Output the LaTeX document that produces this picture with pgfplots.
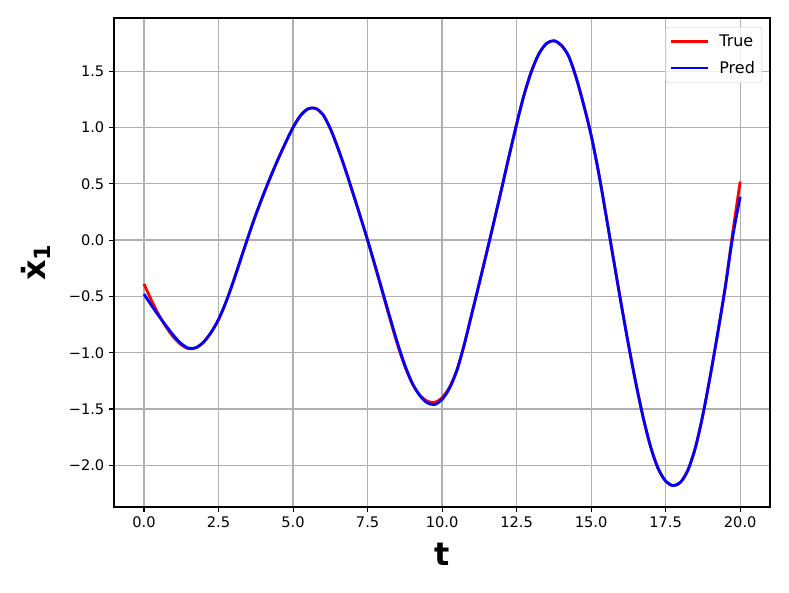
\documentclass[border=0pt]{standalone}
\usepackage{fontspec}
\setmainfont{DejaVu Sans}
\usepackage{pgfplots}
\pgfplotsset{compat=1.18}
\pgfplotstableread{
t y
0.0 -0.48
0.25 -0.58
0.5 -0.675
0.75 -0.765
1.0 -0.85
1.25 -0.92
1.5 -0.96
1.75 -0.955
2.0 -0.905
2.25 -0.82
2.5 -0.705
2.75 -0.55
3.0 -0.365
3.25 -0.165
3.5 0.035
3.75 0.225
4.0 0.40
4.25 0.565
4.5 0.72
4.75 0.865
5.0 1.0
5.25 1.105
5.5 1.165
5.75 1.17
6.0 1.115
6.25 0.99
6.5 0.82
6.75 0.63
7.0 0.425
7.25 0.215
7.5 0.0
7.75 -0.225
8.0 -0.455
8.25 -0.685
8.5 -0.91
8.75 -1.11
9.0 -1.27
9.25 -1.38
9.5 -1.445
9.75 -1.46
10.0 -1.415
10.25 -1.315
10.5 -1.155
10.75 -0.92
11.0 -0.65
11.25 -0.38
11.5 -0.105
11.75 0.175
12.0 0.46
12.25 0.75
12.5 1.03
12.75 1.29
13.0 1.50
13.25 1.655
13.5 1.745
13.75 1.77
14.0 1.73
14.25 1.63
14.5 1.44
14.75 1.20
15.0 0.93
15.25 0.60
15.5 0.22
15.75 -0.17
16.0 -0.555
16.25 -0.925
16.5 -1.27
16.75 -1.58
17.0 -1.84
17.25 -2.03
17.5 -2.14
17.75 -2.18
18.0 -2.15
18.25 -2.04
18.5 -1.84
18.75 -1.55
19.0 -1.20
19.25 -0.82
19.5 -0.42
19.75 0.03
20.0 0.385
}\pred
\pgfplotstableread{
t y
0.0 -0.39
0.25 -0.535
0.5 -0.665
0.75 -0.775
1.0 -0.865
1.25 -0.93
1.5 -0.965
1.75 -0.955
2.0 -0.905
2.25 -0.82
2.5 -0.705
2.75 -0.55
3.0 -0.365
3.25 -0.165
3.5 0.035
3.75 0.225
4.0 0.40
4.25 0.565
4.5 0.72
4.75 0.865
5.0 1.0
5.25 1.105
5.5 1.165
5.75 1.17
6.0 1.115
6.25 0.99
6.5 0.82
6.75 0.63
7.0 0.425
7.25 0.215
7.5 0.0
7.75 -0.23
8.0 -0.465
8.25 -0.70
8.5 -0.925
8.75 -1.12
9.0 -1.275
9.25 -1.375
9.5 -1.43
9.75 -1.44
10.0 -1.40
10.25 -1.305
10.5 -1.15
10.75 -0.92
11.0 -0.65
11.25 -0.38
11.5 -0.105
11.75 0.175
12.0 0.46
12.25 0.75
12.5 1.03
12.75 1.29
13.0 1.50
13.25 1.655
13.5 1.745
13.75 1.77
14.0 1.73
14.25 1.63
14.5 1.44
14.75 1.20
15.0 0.93
15.25 0.60
15.5 0.22
15.75 -0.17
16.0 -0.555
16.25 -0.925
16.5 -1.27
16.75 -1.58
17.0 -1.84
17.25 -2.03
17.5 -2.14
17.75 -2.18
18.0 -2.15
18.25 -2.04
18.5 -1.84
18.75 -1.55
19.0 -1.20
19.25 -0.82
19.5 -0.41
19.75 0.07
20.0 0.52
}\truedata
\definecolor{gridgray}{HTML}{B0B0B0}
\begin{document}
\begin{tikzpicture}
\path[use as bounding box] (-82.08pt,-61.2pt) rectangle (486pt,365.04pt);
\begin{axis}[
  at={(0,0)}, anchor=south west,
  scale only axis,
  width=472.32pt, height=352.08pt,
  xmin=-1.007, xmax=21.0,
  ymin=-2.37, ymax=1.972,
  axis line style={black, line width=0.8pt},
  tick pos=left,
  tick align=outside,
  major tick length=3.5pt,
  tick style={black, line width=0.8pt},
  grid=major,
  major grid style={gridgray, line width=0.9pt},
  xtick={0,2.5,5,7.5,10,12.5,15,17.5,20},
  xticklabels={0.0,2.5,5.0,7.5,10.0,12.5,15.0,17.5,20.0},
  ytick={-2,-1.5,-1,-0.5,0,0.5,1,1.5},
  yticklabels={−2.0,−1.5,−1.0,−0.5,0.0,0.5,1.0,1.5},
  ticklabel style={font=\fontsize{10.5}{12}\selectfont},
  xlabel={\textbf{t}},
  ylabel={\textbf{ẋ\textsubscript{1}}},
  xlabel style={at={(axis description cs:0.5,-0.096)}, anchor=center, font=\fontsize{23}{26}\selectfont},
  ylabel style={at={(axis description cs:-0.119,0.5)}, anchor=center, font=\fontsize{23}{26}\selectfont},
  legend style={at={(axis description cs:0.988,0.982)}, anchor=north east,
    draw=gray!35, rounded corners=2pt, fill=white, fill opacity=0.8, text opacity=1,
    font=\fontsize{11.5}{13}\selectfont, inner xsep=3pt, inner ysep=3.5pt, row sep=5pt, column sep=5pt},
  legend cell align=left,
  legend image code/.code={\draw[#1] (0pt,0pt) -- (26.6pt,0pt);},
]
\addplot[red, line width=2pt, smooth] table[x=t, y=y] {\truedata};
\addlegendentry{True}
\addplot[blue, line width=2pt, smooth] table[x=t, y=y] {\pred};
\addlegendentry{Pred}
\end{axis}
\end{tikzpicture}
\end{document}
